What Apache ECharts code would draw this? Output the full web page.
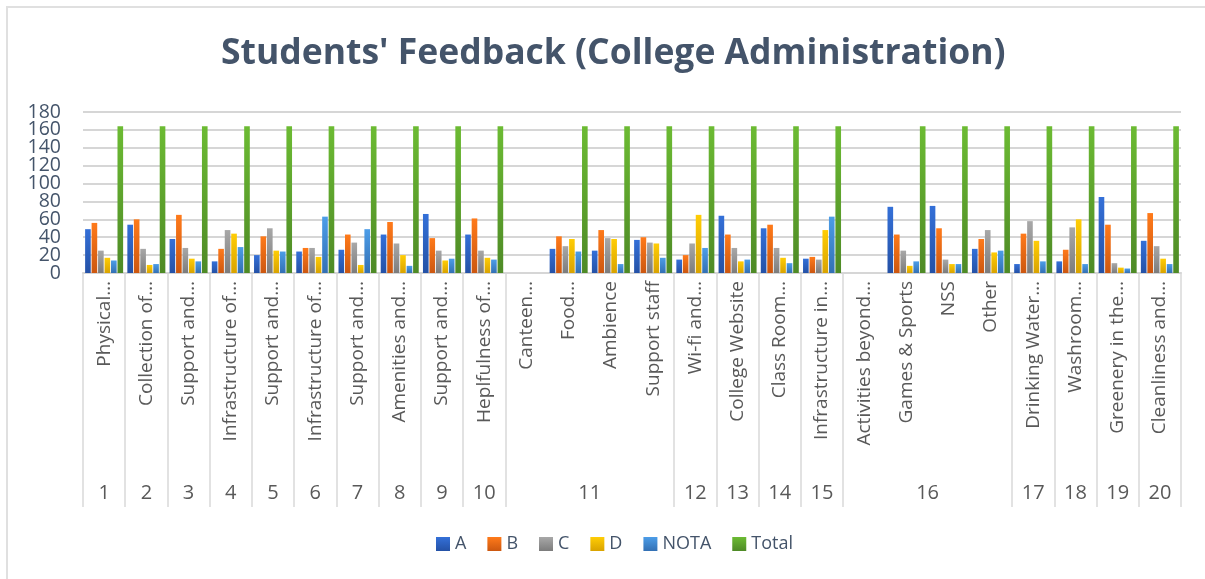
<!DOCTYPE html>
<html>
<head>
<meta charset="utf-8">
<script src="https://cdn.jsdelivr.net/npm/echarts@6/dist/echarts.min.js"></script>
<style>
html,body{margin:0;padding:0;background:#fff;}
#wrap{position:relative;width:1205px;height:579px;overflow:hidden;}
#chart{width:1205px;height:579px;}
#frame{position:absolute;left:6px;top:6px;width:1300px;height:700px;border-left:2px solid #e0e0e0;border-top:2px solid #e0e0e0;pointer-events:none;}
</style>
</head>
<body>
<div id="wrap"><div id="chart"></div><div id="frame"></div></div>
<script>
const categories = ['Physical…','Collection of…','Support and…','Infrastructure of…','Support and…','Infrastructure of…','Support and…','Amenities and…','Support and…','Heplfulness of…','Canteen…','Food…','Ambience','Support staff','Wi-fi and…','College Website','Class Room…','Infrastructure in…','Activities beyond…','Games & Sports','NSS','Other','Drinking Water…','Washroom…','Greenery in the…','Cleanliness and…'];
const groupNames = ['1','2','3','4','5','6','7','8','9','10','11','12','13','14','15','16','17','18','19','20'];
const groupSpans = [1,1,1,1,1,1,1,1,1,1,4,1,1,1,1,4,1,1,1,1];
const yTicks = [0,20,40,60,80,100,120,140,160,180];

const seriesNames = ['A','B','C','D','NOTA','Total'];
const A     = [49,54,38,13,20,24,26,43,66,43,null,27,25,37,15,64,50,16,null,74,75,27,10,13,85,36];
const B     = [56,60,65,27,41,28,43,57,39,61,null,41,48,40,20,43,54,18,null,43,50,38,44,26,54,67];
const C     = [25,27,28,48,50,28,34,33,25,25,null,30,39,34,33,28,28,15,null,25,15,48,58,51,11,30];
const D     = [17,9,16,44,25,18,9,20,14,17,null,38,38,33,65,13,17,48,null,8,10,23,36,60,6,16];
const NOTA  = [14,10,13,29,24,63,49,8,16,15,null,24,10,17,28,15,11,63,null,13,10,25,13,10,5,10];
const Total = [164,164,164,164,164,164,164,164,164,164,null,164,164,164,164,164,164,164,null,164,164,164,164,164,164,164];
const seriesData = [A,B,C,D,NOTA,Total];

const colorPairs = [
  ['#3470d8','#2451a6'],
  ['#ff7a1a','#cc5710'],
  ['#a8a8a8','#7c7c7c'],
  ['#ffcd05','#d9a300'],
  ['#4c9de8','#3370b4'],
  ['#6cbb33','#4e8a26']
];

// group boundaries and centers from spans
const bounds = [0];
const centers = [];
groupSpans.forEach(s => { const st = bounds[bounds.length-1]; centers.push(st + s/2); bounds.push(st + s); });
const centerMap = {};
centers.forEach((c,i) => centerMap[c] = groupNames[i]);

const chart = echarts.init(document.getElementById('chart'));
const textColor = '#44546a';
chart.setOption({
  animation:false,
  title:{
    text:"Students' Feedback (College Administration)",
    left:216, top:31,
    textStyle:{fontFamily:'Open Sans',fontWeight:'bold',fontSize:35.5,color:textColor}
  },
  legend:{
    data:seriesNames, bottom:21, left:431,
    itemWidth:14, itemHeight:14, itemGap:21, icon:'rect',
    textStyle:{fontFamily:'Open Sans',fontSize:18,color:textColor}
  },
  grid:{left:83,right:24,top:112,bottom:306},
  xAxis:[{
    type:'category', data:categories, position:'bottom',
    axisLine:{show:true,lineStyle:{color:'#d0d0d0',width:2}},
    axisTick:{show:false},
    axisLabel:{rotate:90,interval:0,margin:8,fontFamily:'Open Sans',fontSize:19,color:'#595959'}
  },{
    type:'value', min:0, max:bounds[bounds.length-1], position:'bottom',
    axisLine:{show:false},
    splitLine:{show:false},
    axisTick:{show:true,customValues:bounds,length:234,lineStyle:{color:'#d9d9d9',width:1.5}},
    axisLabel:{show:true,customValues:centers,margin:210,fontFamily:'Open Sans',fontSize:20,color:'#595959',
      formatter:v => centerMap[v] !== undefined ? centerMap[v] : ''}
  }],
  yAxis:[{
    type:'value', min:yTicks[0], max:yTicks[yTicks.length-1], interval:20, position:'left',
    axisLine:{show:false}, axisTick:{show:false},
    axisLabel:{show:false},
    splitLine:{show:true,lineStyle:{color:'#d6d6d6',width:2}}
  },{
    type:'category', data:yTicks.map(String), boundaryGap:false, position:'left',
    axisLine:{show:false}, axisTick:{show:false}, splitLine:{show:false},
    axisLabel:{interval:0,fontFamily:'Open Sans',fontSize:19.5,color:textColor,margin:22}
  }],
  series: seriesNames.map((n,i)=>({
    name:n, type:'bar', xAxisIndex:0, yAxisIndex:0, data:seriesData[i],
    barGap:'15%', barCategoryGap:'10%',
    itemStyle:{color:new echarts.graphic.LinearGradient(0,0,0,1,[{offset:0,color:colorPairs[i][0]},{offset:1,color:colorPairs[i][1]}])},
    markLine: i === 0 ? {
      silent:true, z:1, symbol:['none','none'], label:{show:false}, animation:false,
      lineStyle:{color:'#d6d6d6',width:2,type:'solid'},
      emphasis:{disabled:true},
      data: yTicks.map(v => ({yAxis:v}))
    } : undefined
  }))
});
</script>
</body>
</html>
